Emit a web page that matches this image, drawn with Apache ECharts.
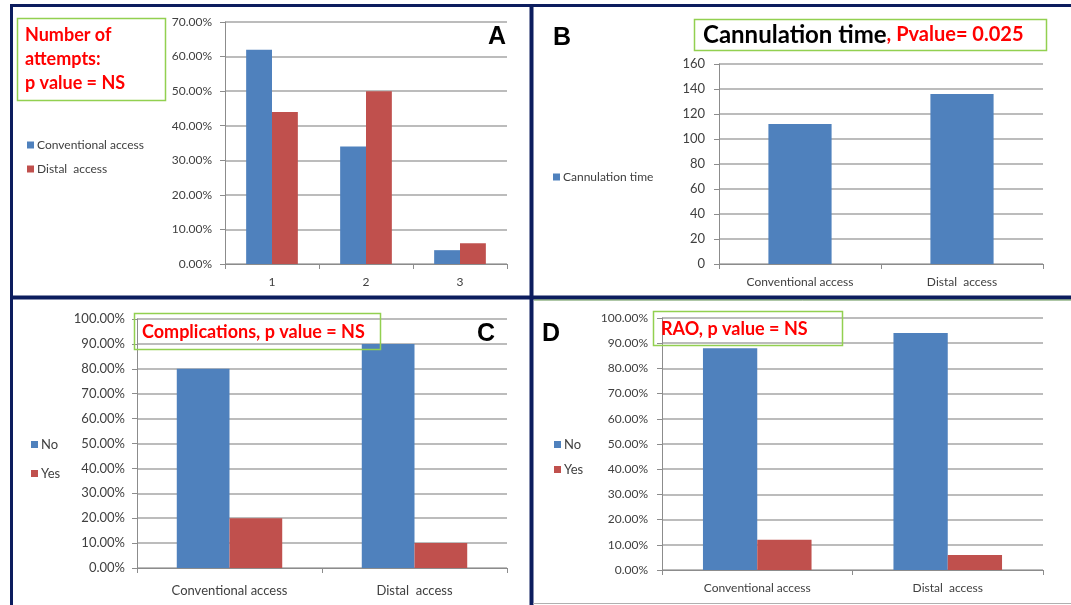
<!DOCTYPE html>
<html>
<head>
<meta charset="utf-8">
<script src="https://cdn.jsdelivr.net/npm/echarts@6/dist/echarts.min.js"></script>
<style>
html,body{margin:0;padding:0;background:#fff;}
#c{width:1071px;height:605px;}
</style>
</head>
<body>
<div id="c"></div>
<script>
// ---- data ----
const attemptCats = ['1', '2', '3'];
const attemptsConventional = [0.62, 0.34, 0.04];
const attemptsDistal = [0.44, 0.50, 0.06];

const accessCats = ['Conventional access', 'Distal  access'];
const cannulationTime = [112, 136];

const complicationsNo = [0.80, 0.90];
const complicationsYes = [0.20, 0.10];

const raoNo = [0.88, 0.94];
const raoYes = [0.12, 0.06];

const pctTicks = v => (v * 100).toFixed(2) + '%';

// ---- styles ----
const BLUE = '#4f81bd', RED = '#c0504d';
const FONT = 'Lato';
const GRID_C = '#a6a6a6';
const NAVY = '#0c1d5e';
const GREEN = '#92d050';

function yAxis(idx, max, interval, fmt, margin, fs) {
  return {
    type: 'value', gridIndex: idx, min: 0, max: max, interval: interval,
    axisLine: {show: true, lineStyle: {color: '#8c8c8c', width: 1}},
    axisTick: {show: true, length: 5, lineStyle: {color: '#8c8c8c'}},
    splitLine: {show: true, lineStyle: {color: GRID_C, width: 1.5}},
    axisLabel: {formatter: fmt, color: '#404040', fontFamily: FONT, fontSize: fs, margin: margin}
  };
}
function xAxis(idx, data, margin, fs) {
  return {
    type: 'category', gridIndex: idx, data: data,
    axisLine: {show: true, lineStyle: {color: '#8c8c8c', width: 1}},
    axisTick: {show: true, length: 5, lineStyle: {color: '#8c8c8c'}},
    splitLine: {show: false},
    axisLabel: {color: '#404040', fontFamily: FONT, fontSize: fs, margin: margin}
  };
}
function legend(names, left, top, gap, fs) {
  return {
    data: names, orient: 'vertical', left: left, top: top,
    itemWidth: 7, itemHeight: 7, itemGap: gap, icon: 'rect',
    selectedMode: false,
    textStyle: {color: '#404040', fontFamily: FONT, fontSize: fs, padding: [0, 0, 0, -2]}
  };
}
function rect(x, y, w, h, color, lw) {
  return {type: 'rect', shape: {x: x, y: y, width: w, height: h},
    style: {fill: 'none', stroke: color, lineWidth: lw}, z: 10};
}
function line(x1, y1, x2, y2, color, lw) {
  return {type: 'line', shape: {x1: x1, y1: y1, x2: x2, y2: y2},
    style: {stroke: color, lineWidth: lw}, z: 20};
}
function txt(x, y, text, color, size, weight, align, family) {
  return {type: 'text', x: x, y: y, z: 11,
    style: {text: text, fill: color, font: (weight || 'normal') + ' ' + size + 'px ' + (family || FONT),
      textAlign: align || 'left', textVerticalAlign: 'middle'}};
}

const chart = echarts.init(document.getElementById('c'));
chart.setOption({
  animation: false,
  backgroundColor: '#fff',
  grid: [
    {left: 225, top: 22, width: 282, height: 242},
    {left: 719, top: 64, width: 324, height: 200},
    {left: 137, top: 319, width: 370, height: 249},
    {left: 662, top: 318, width: 381, height: 252}
  ],
  xAxis: [
    xAxis(0, attemptCats, 12, 12),
    xAxis(1, accessCats, 12, 12),
    xAxis(2, accessCats, 16, 13),
    xAxis(3, accessCats, 12, 12)
  ],
  yAxis: [
    yAxis(0, 0.7, 0.1, pctTicks, 13, 12),
    yAxis(1, 160, 20, null, 14, 13),
    yAxis(2, 1.0, 0.1, pctTicks, 12, 13),
    yAxis(3, 1.0, 0.1, pctTicks, 14, 12)
  ],
  legend: [
    legend(['Conventional access', 'Distal  access'], 22, 134, 12, 12),
    legend(['Cannulation time'], 548, 166, 10, 12),
    legend(['No', 'Yes'], 26, 433, 16, 13),
    legend(['No', 'Yes'], 549, 433, 12, 13)
  ],
  series: [
    {name: 'Conventional access', type: 'bar', xAxisIndex: 0, yAxisIndex: 0, data: attemptsConventional,
      itemStyle: {color: BLUE}, barGap: '0%', barCategoryGap: '45%'},
    {name: 'Distal  access', type: 'bar', xAxisIndex: 0, yAxisIndex: 0, data: attemptsDistal,
      itemStyle: {color: RED}, barGap: '0%', barCategoryGap: '45%'},
    {name: 'Cannulation time', type: 'bar', xAxisIndex: 1, yAxisIndex: 1, data: cannulationTime,
      itemStyle: {color: BLUE}, barCategoryGap: '61%'},
    {name: 'No', type: 'bar', xAxisIndex: 2, yAxisIndex: 2, data: complicationsNo,
      itemStyle: {color: BLUE}, barGap: '0%', barCategoryGap: '43%'},
    {name: 'Yes', type: 'bar', xAxisIndex: 2, yAxisIndex: 2, data: complicationsYes,
      itemStyle: {color: RED}, barGap: '0%', barCategoryGap: '43%'},
    {name: 'No', type: 'bar', xAxisIndex: 3, yAxisIndex: 3, data: raoNo,
      itemStyle: {color: BLUE}, barGap: '0%', barCategoryGap: '43%'},
    {name: 'Yes', type: 'bar', xAxisIndex: 3, yAxisIndex: 3, data: raoYes,
      itemStyle: {color: RED}, barGap: '0%', barCategoryGap: '43%'}
  ],
  graphic: [
    // panel frames
    line(10, 5.5, 1071, 5.5, NAVY, 3),
    line(11.5, 4, 11.5, 605, NAVY, 3),
    line(531.5, 4, 531.5, 605, NAVY, 4),
    line(10, 297.5, 1071, 297.5, NAVY, 4),
    line(534, 300, 1071, 300, '#5f8f4e', 1),
    line(533, 603.5, 1071, 603.5, '#b0b0b0', 1),
    // panel A
    rect(17.5, 18.5, 148, 82, GREEN, 1.5),
    txt(25, 35, 'Number of', '#ff0000', 18, 'bold'),
    txt(25, 59, 'attempts:', '#ff0000', 18, 'bold'),
    txt(25, 83, 'p value = NS', '#ff0000', 18, 'bold'),
    txt(497, 37, 'A', '#000', 25, 'bold', 'center', 'Liberation Sans'),
    // panel B
    rect(694.5, 19.5, 352, 31, GREEN, 1.5),
    {type: 'text', x: 703, y: 35, z: 11, style: {
      text: '{a|Cannulation time}{b|, Pvalue= 0.025}', textVerticalAlign: 'middle',
      rich: {
        a: {fill: '#000', fontFamily: FONT, fontSize: 24, fontWeight: 'bold'},
        b: {fill: '#ff0000', fontFamily: FONT, fontSize: 20, fontWeight: 'bold'}
      }}},
    txt(562, 38, 'B', '#000', 25, 'bold', 'center', 'Liberation Sans'),
    // panel C
    rect(134.5, 313.5, 246, 36, GREEN, 1.5),
    txt(142, 332, 'Complications, p value = NS', '#ff0000', 18, 'bold'),
    txt(486, 334, 'C', '#000', 25, 'bold', 'center', 'Liberation Sans'),
    // panel D
    rect(653.5, 311.5, 189, 34, GREEN, 1.5),
    txt(661, 329, 'RAO, p value = NS', '#ff0000', 18, 'bold'),
    txt(551, 334, 'D', '#000', 25, 'bold', 'center', 'Liberation Sans')
  ]
});
</script>
</body>
</html>
